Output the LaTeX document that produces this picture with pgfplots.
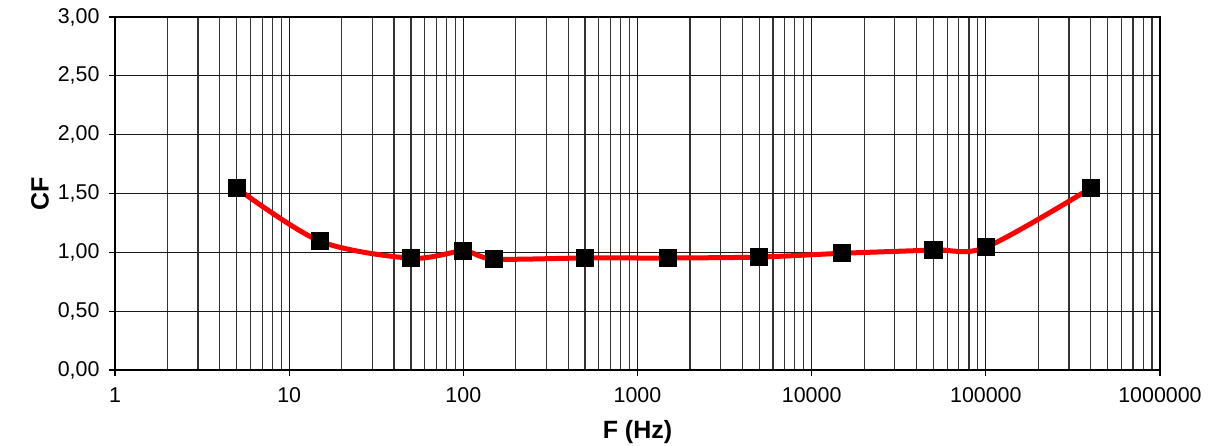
\documentclass[border=0pt]{standalone}
\usepackage{fontspec}
\setmainfont{Liberation Sans}
\usepackage{pgfplots}
\pgfplotsset{compat=1.18}

\begin{document}
\fontsize{10.7}{13}\selectfont
\begin{tikzpicture}
  \path[use as bounding box] (-57.5pt,-37.5pt) rectangle (548pt,185pt);
  \begin{axis}[
    scale only axis,
    width=522.5pt, height=176.5pt,
    xmode=log,
    xmin=1, xmax=1000000,
    ymin=0, ymax=3,
    xtick={1,10,100,1000,10000,100000,1000000},
    xticklabels={1,10,100,1000,10000,100000,1000000},
    ytick={0,0.5,1,1.5,2,2.5,3},
    yticklabel style={/pgf/number format/fixed,
      /pgf/number format/fixed zerofill,
      /pgf/number format/precision=2,
      /pgf/number format/use comma},
    /pgf/number format/assume math mode=true,
    tick align=outside,
    major tick length=3pt,
    minor tick length=0pt,
    xtick pos=bottom, ytick pos=left,
    tick style={black, line width=0.6pt},
    grid=both,
    major grid style={black!90, line width=0.6pt},
    minor grid style={black!80, line width=0.6pt},
    ymajorgrids=true, yminorgrids=false,
    axis line style={black, line width=0.6pt},
    xlabel={\fontsize{12.5}{14}\selectfont\bfseries F (Hz)},
    ylabel={\fontsize{12.5}{14}\selectfont\bfseries CF},
    xlabel style={at={(axis description cs:0.5,0)}, anchor=center, yshift=-31pt},
    ylabel style={at={(axis description cs:0,0.5)}, anchor=center, yshift=37.5pt},
    x tick label style={yshift=-2pt},
    y tick label style={xshift=-1pt},
  ]
    \addplot[red, line width=2.5pt, smooth, tension=0.5,
      mark=square*, mark size=4.3pt,
      mark options={black, fill=black, line width=0pt}] coordinates {
      (5, 1.545)
      (15, 1.095)
      (50, 0.950)
      (100, 1.010)
      (150, 0.943)
      (500, 0.952)
      (1500, 0.952)
      (5000, 0.960)
      (15000, 0.992)
      (50000, 1.020)
      (100000, 1.043)
      (400000, 1.545)
    };
  \end{axis}
\end{tikzpicture}
\end{document}
